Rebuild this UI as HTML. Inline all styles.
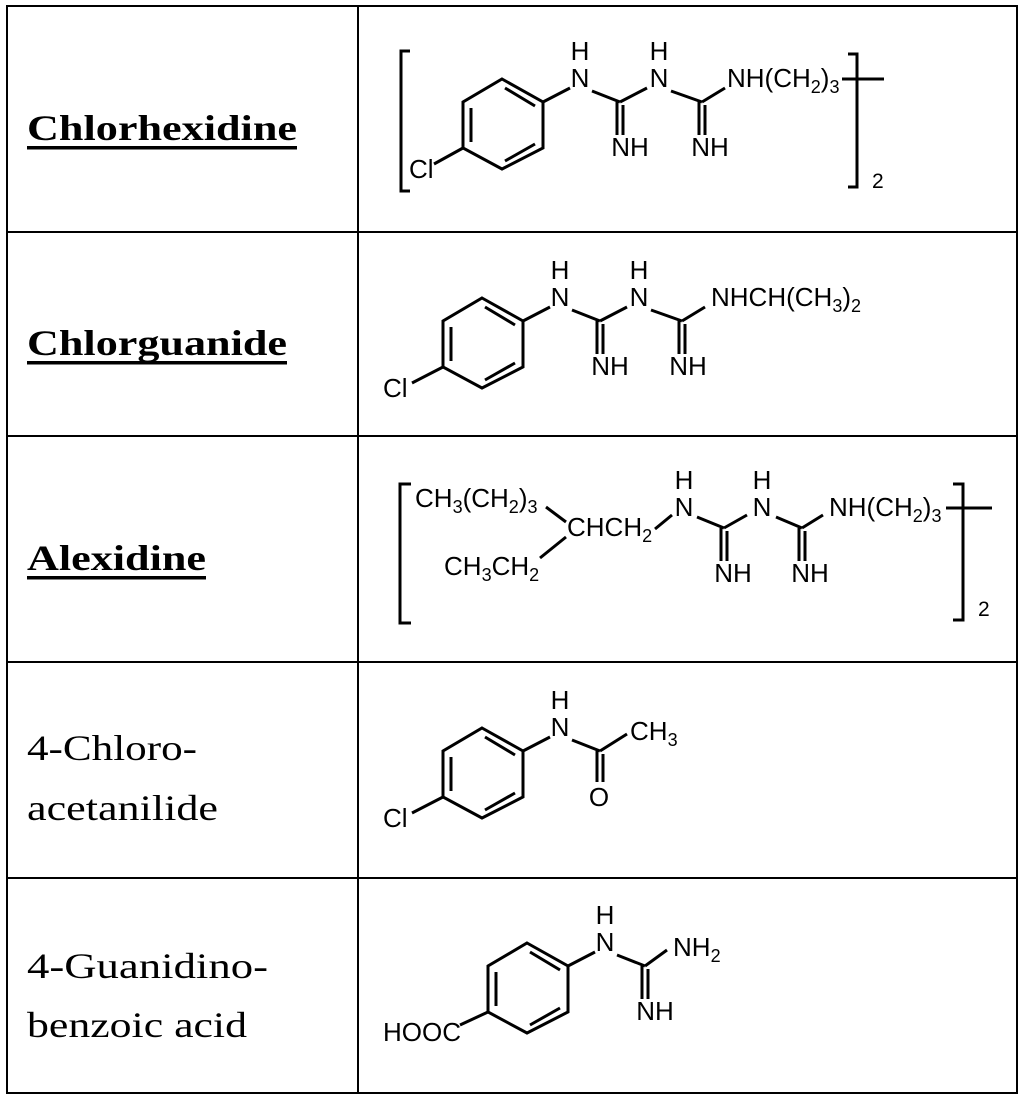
<!DOCTYPE html>
<html><head><meta charset="utf-8"><style>
html,body{margin:0;padding:0;background:#fff;}
svg{display:block;}
.c{font-family:"Liberation Sans",Arial,sans-serif;font-size:26px;fill:#000;}
.s{font-size:18px;}
.t{font-family:"Liberation Serif","Times New Roman",serif;font-size:36px;fill:#000;}
.b{font-weight:bold;}
</style></head><body>
<svg width="1024" height="1099" viewBox="0 0 1024 1099" xmlns="http://www.w3.org/2000/svg">
<defs>
<g id="ring" fill="none" stroke="#000" stroke-width="3">
  <polygon points="482,298 523,321 523,367 482,388 443,367 443,321"/>
  <line x1="485" y1="307" x2="515" y2="325"/>
  <line x1="451" y1="327" x2="451" y2="361"/>
  <line x1="485" y1="380" x2="515" y2="363"/>
  <line x1="523" y1="321" x2="550" y2="307"/>
  <line x1="572" y1="310" x2="600" y2="321"/>
</g>
<g id="gua" fill="none" stroke="#000" stroke-width="3">
  <line x1="597" y1="321" x2="597" y2="354"/>
  <line x1="603" y1="324" x2="603" y2="354"/>
</g>
</defs>
<g stroke="#000" stroke-width="2" fill="none">
<rect x="7" y="6" width="1010" height="1087"/>
<line x1="358" y1="6" x2="358" y2="1093"/>
<line x1="7" y1="232" x2="1017" y2="232"/>
<line x1="7" y1="436" x2="1017" y2="436"/>
<line x1="7" y1="662" x2="1017" y2="662"/>
<line x1="7" y1="878" x2="1017" y2="878"/>
</g>
<text class="t b" x="27" y="140" textLength="270" lengthAdjust="spacingAndGlyphs">Chlorhexidine</text>
<rect x="27" y="146" width="270" height="3.5"/>
<text class="t b" x="27" y="355" textLength="260" lengthAdjust="spacingAndGlyphs">Chlorguanide</text>
<rect x="27" y="361" width="260" height="3.5"/>
<text class="t b" x="27" y="570" textLength="179" lengthAdjust="spacingAndGlyphs">Alexidine</text>
<rect x="27" y="576" width="179" height="3.5"/>
<text class="t" x="27" y="760" textLength="170" lengthAdjust="spacingAndGlyphs">4-Chloro-</text>
<text class="t" x="27" y="820" textLength="191" lengthAdjust="spacingAndGlyphs">acetanilide</text>
<text class="t" x="27" y="978" textLength="241" lengthAdjust="spacingAndGlyphs">4-Guanidino-</text>
<text class="t" x="27" y="1037" textLength="220" lengthAdjust="spacingAndGlyphs">benzoic acid</text>

<g transform="translate(20,-219)">
  <use href="#ring"/>
  <use href="#gua"/>
  <g transform="translate(82,0)"><use href="#gua"/></g>
  <g stroke="#000" stroke-width="3" fill="none">
    <line x1="443" y1="367" x2="414" y2="383"/>
    <line x1="600" y1="321" x2="627" y2="307"/>
    <line x1="651" y1="310" x2="682" y2="321"/>
    <line x1="682" y1="321" x2="705" y2="307"/>
  </g>
  <text class="c" x="389" y="397">Cl</text>
  <text class="c" x="560" y="306" text-anchor="middle">N</text>
  <text class="c" x="560" y="279" text-anchor="middle">H</text>
  <text class="c" x="639" y="306" text-anchor="middle">N</text>
  <text class="c" x="639" y="279" text-anchor="middle">H</text>
  <text class="c" x="610" y="375" text-anchor="middle">NH</text>
  <text class="c" x="690" y="375" text-anchor="middle">NH</text>
</g>
<text class="c" x="727" y="87">NH(CH<tspan class="s" dy="6">2</tspan><tspan dy="-6">)</tspan><tspan class="s" dy="6">3</tspan></text>
<g stroke="#000" stroke-width="3" fill="none">
  <line x1="842" y1="79" x2="884" y2="79"/>
  <polyline points="410,51 401,51 401,191 410,191"/>
  <polyline points="848,54 857,54 857,187 848,187"/>
</g>
<text class="c" x="872" y="188" style="font-size:21px">2</text>

<use href="#ring"/>
<use href="#gua"/>
<g transform="translate(82,0)"><use href="#gua"/></g>
<g stroke="#000" stroke-width="3" fill="none">
  <line x1="443" y1="367" x2="412" y2="383"/>
  <line x1="600" y1="321" x2="627" y2="307"/>
  <line x1="651" y1="310" x2="682" y2="321"/>
  <line x1="682" y1="321" x2="705" y2="307"/>
</g>
<text class="c" x="383" y="397">Cl</text>
<text class="c" x="560" y="306" text-anchor="middle">N</text>
<text class="c" x="560" y="279" text-anchor="middle">H</text>
<text class="c" x="639" y="306" text-anchor="middle">N</text>
<text class="c" x="639" y="279" text-anchor="middle">H</text>
<text class="c" x="610" y="375" text-anchor="middle">NH</text>
<text class="c" x="688" y="375" text-anchor="middle">NH</text>
<text class="c" x="711" y="306">NHCH(CH<tspan class="s" dy="6">3</tspan><tspan dy="-6">)</tspan><tspan class="s" dy="6">2</tspan></text>

<g stroke="#000" stroke-width="3" fill="none">
  <polyline points="411,484 400,484 400,623 411,623"/>
  <polyline points="953,484 963,484 963,620 953,620"/>
  <line x1="946" y1="508" x2="992" y2="508"/>
  <line x1="546" y1="507" x2="566" y2="522"/>
  <line x1="566" y1="537" x2="540" y2="558"/>
  <line x1="655" y1="529" x2="672" y2="515"/>
  <line x1="697" y1="517" x2="724" y2="528"/>
  <line x1="721" y1="528" x2="721" y2="561"/>
  <line x1="727" y1="531" x2="727" y2="561"/>
  <line x1="724" y1="528" x2="747" y2="515"/>
  <line x1="776" y1="517" x2="802" y2="528"/>
  <line x1="799" y1="528" x2="799" y2="561"/>
  <line x1="805" y1="531" x2="805" y2="561"/>
  <line x1="802" y1="528" x2="823" y2="515"/>
</g>
<text class="c" x="415" y="507">CH<tspan class="s" dy="6">3</tspan><tspan dy="-6">(CH</tspan><tspan class="s" dy="6">2</tspan><tspan dy="-6">)</tspan><tspan class="s" dy="6">3</tspan></text>
<text class="c" x="567" y="536">CHCH<tspan class="s" dy="6">2</tspan></text>
<text class="c" x="444" y="575">CH<tspan class="s" dy="6">3</tspan><tspan dy="-6">CH</tspan><tspan class="s" dy="6">2</tspan></text>
<text class="c" x="684" y="516" text-anchor="middle">N</text>
<text class="c" x="684" y="489" text-anchor="middle">H</text>
<text class="c" x="762" y="516" text-anchor="middle">N</text>
<text class="c" x="762" y="489" text-anchor="middle">H</text>
<text class="c" x="733" y="582" text-anchor="middle">NH</text>
<text class="c" x="810" y="582" text-anchor="middle">NH</text>
<text class="c" x="829" y="516">NH(CH<tspan class="s" dy="6">2</tspan><tspan dy="-6">)</tspan><tspan class="s" dy="6">3</tspan></text>
<text class="c" x="978" y="616" style="font-size:21px">2</text>

<g transform="translate(0,430)">
  <use href="#ring"/>
  <g stroke="#000" stroke-width="3" fill="none">
    <line x1="443" y1="367" x2="412" y2="383"/>
    <line x1="597" y1="321" x2="597" y2="352"/>
    <line x1="603" y1="324" x2="603" y2="352"/>
    <line x1="600" y1="321" x2="627" y2="304"/>
  </g>
  <text class="c" x="383" y="397">Cl</text>
  <text class="c" x="560" y="306" text-anchor="middle">N</text>
  <text class="c" x="560" y="279" text-anchor="middle">H</text>
  <text class="c" x="599" y="376" text-anchor="middle">O</text>
  <text class="c" x="630" y="310">CH<tspan class="s" dy="6">3</tspan></text>
</g>

<g transform="translate(45,645)">
  <use href="#ring"/>
  <use href="#gua"/>
  <g stroke="#000" stroke-width="3" fill="none">
    <line x1="443" y1="367" x2="415" y2="380"/>
    <line x1="600" y1="321" x2="622" y2="305"/>
  </g>
  <text class="c" x="560" y="306" text-anchor="middle">N</text>
  <text class="c" x="560" y="279" text-anchor="middle">H</text>
  <text class="c" x="610" y="375" text-anchor="middle">NH</text>
  <text class="c" x="628" y="311">NH<tspan class="s" dy="6">2</tspan></text>
</g>
<text class="c" x="383" y="1041">HOOC</text>
</svg>
</body></html>
